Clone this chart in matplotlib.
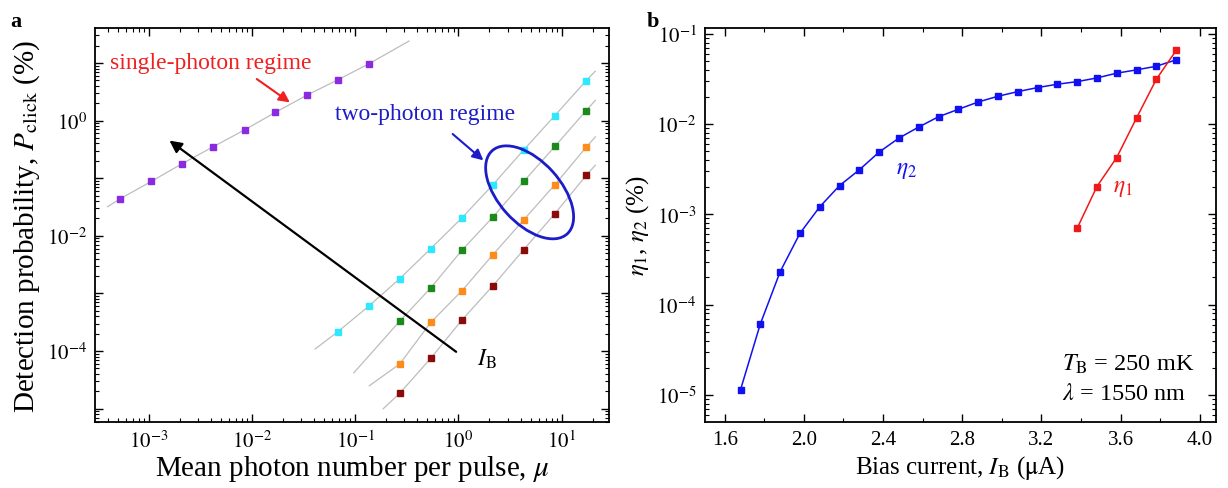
import numpy as np
import matplotlib
matplotlib.use('Agg')
import matplotlib.pyplot as plt
from matplotlib.patches import Ellipse
from matplotlib.transforms import ScaledTranslation
from matplotlib.ticker import FixedLocator, LogLocator, NullFormatter, FuncFormatter, MultipleLocator

plt.rcParams['font.family'] = ['Liberation Serif', 'DejaVu Serif']
plt.rcParams['mathtext.fontset'] = 'stix'

# ---- panel a data: mean photon number vs click probability (%)
mu = [0.00053, 0.00106, 0.0021, 0.0042, 0.0085, 0.0169, 0.034, 0.068, 0.135,
      0.27, 0.54, 1.08, 2.16, 4.3, 8.6, 17.3]
p_purple = [0.044, 0.088, 0.178, 0.35, 0.69, 1.39, 2.75, 5.1, 9.6]
p_cyan = [2.17e-4, 6.0e-4, 1.8e-3, 6.0e-3, 0.0204, 0.077, 0.31, 1.22, 4.92]
p_green = [3.3e-4, 1.25e-3, 5.6e-3, 0.0212, 0.088, 0.355, 1.49]
p_orange = [5.97e-5, 3.14e-4, 1.11e-3, 4.7e-3, 0.019, 0.077, 0.345]
p_darkred = [1.85e-5, 7.5e-5, 3.45e-4, 1.36e-3, 5.77e-3, 0.0242, 0.112]

# ends of the grey fit lines (start, end)
fit_purple = ([4.0e-4, 0.333], [0.032, 24.0])
fit_cyan = ([0.041, 21.2], [1.09e-4, 7.2])
fit_green = ([0.097, 21.2], [4.2e-5, 2.24])
fit_orange = ([0.137, 21.2], [2.5e-5, 0.52])
fit_darkred = ([0.187, 21.2], [1.0e-5, 0.168])

# ---- panel b data: efficiencies vs bias current
ib2 = [1.68, 1.78, 1.88, 1.98, 2.08, 2.18, 2.28, 2.38, 2.48, 2.58, 2.68, 2.78,
       2.88, 2.98, 3.08, 3.18, 3.28, 3.38, 3.48, 3.58, 3.68, 3.78, 3.88]
eta2 = [1.14e-5, 6.1e-5, 2.31e-4, 6.15e-4, 1.21e-3, 2.08e-3, 3.11e-3, 4.89e-3,
        6.99e-3, 9.26e-3, 0.01205, 0.01455, 0.01754, 0.0203, 0.02285, 0.02535,
        0.0276, 0.0295, 0.0324, 0.0366, 0.0398, 0.0437, 0.0514]
ib1 = [3.38, 3.48, 3.58, 3.68, 3.78, 3.88]
eta1 = [6.99e-4, 2.03e-3, 4.26e-3, 0.01166, 0.0313, 0.0653]

fig = plt.figure(figsize=(12.28, 4.89), dpi=100)
ax1 = fig.add_axes([0.0774, 0.135, 0.4186, 0.805])
ax2 = fig.add_axes([0.574, 0.135, 0.416, 0.805])


def fit_line(ax, fit, pts_x, pts_y):
    xs = [fit[0][0]] + list(pts_x) + [fit[0][1]]
    ys = [fit[1][0]] + list(pts_y) + [fit[1][1]]
    ax.plot(xs, ys, color='#bdbdbd', lw=0.9, zorder=1)


series = [
    (mu[0:9], p_purple, fit_purple, '#8a2be2'),
    (mu[7:16], p_cyan, fit_cyan, '#2ee8ff'),
    (mu[9:16], p_green, fit_green, '#1a8a1a'),
    (mu[9:16], p_orange, fit_orange, '#ff8c1a'),
    (mu[9:16], p_darkred, fit_darkred, '#8b0a0a'),
]
for xs, ys, fit, c in series:
    fit_line(ax1, fit, xs, ys)
    ax1.plot(xs, ys, 's', color=c, ms=4.5, mec=c, zorder=3)

ax1.set_xscale('log')
ax1.set_yscale('log')
ax1.set_xlim(10 ** -3.52, 10 ** 1.46)
ax1.set_ylim(10 ** -5.23, 10 ** 1.6)

ax1.xaxis.set_major_locator(FixedLocator([1e-3, 1e-2, 1e-1, 1e0, 1e1]))
ax1.xaxis.set_major_formatter(FuncFormatter(lambda v, p: r'$10^{%d}$' % round(np.log10(v))))
ax1.xaxis.set_minor_locator(LogLocator(base=10, subs=np.arange(2, 10), numticks=20))
ax1.xaxis.set_minor_formatter(NullFormatter())
ax1.yaxis.set_major_locator(FixedLocator([10.0 ** k for k in range(-5, 2)]))
ax1.yaxis.set_major_formatter(FuncFormatter(
    lambda v, p: r'$10^{%d}$' % round(np.log10(v)) if round(np.log10(v)) % 2 == 0 else ''))
ax1.yaxis.set_minor_locator(LogLocator(base=10, subs=np.arange(2, 10), numticks=20))
ax1.yaxis.set_minor_formatter(NullFormatter())

ax1.set_xlabel(r'Mean photon number per pulse, $\mu$', fontsize=21, labelpad=1)
ax1.set_ylabel(r'Detection probability, $P_{\mathrm{click}}$ (%)', fontsize=21, labelpad=3)

# annotations panel a
ax1.text(4.2e-4, 10.2, 'single-photon regime', color='#f02020', fontsize=17, va='center')
ax1.annotate('', xy=(0.0245, 1.94), xytext=(0.0106, 5.6),
             arrowprops=dict(arrowstyle='-|>', color='#f02020', lw=1.5, mutation_scale=16))
ax1.text(0.0637, 1.30, 'two-photon regime', color='#1c1cc8', fontsize=17, va='center')
ax1.annotate('', xy=(1.83, 0.19), xytext=(0.84, 0.628),
             arrowprops=dict(arrowstyle='-|>', color='#1c1cc8', lw=1.5, mutation_scale=16))
ell_tr = fig.dpi_scale_trans + ScaledTranslation(4.9, 0.0568, ax1.transData)
ax1.add_patch(Ellipse((0, 0), width=1.12, height=0.62, angle=-48, fill=False,
                      ec='#1c1cc8', lw=2.0, transform=ell_tr, zorder=4))
ax1.annotate('', xy=(1.51e-3, 0.48), xytext=(1.0, 9.1e-5),
             arrowprops=dict(arrowstyle='-|>', color='black', lw=1.6, mutation_scale=18))
ax1.text(1.5, 7.5e-5, r'$I_{\mathrm{B}}$', fontsize=17, va='center')

# ---- panel b
ax2.plot(ib2, eta2, 's-', color='#1010f0', ms=5, lw=1.1)
ax2.plot(ib1, eta1, 's-', color='#f01818', ms=5, lw=1.1)
ax2.set_yscale('log')
ax2.set_xlim(1.5, 4.08)
ax2.set_ylim(10 ** -5.3, 10 ** -0.94)
ax2.xaxis.set_major_locator(MultipleLocator(0.4))
ax2.xaxis.set_minor_locator(MultipleLocator(0.2))
ax2.xaxis.set_major_formatter(FuncFormatter(lambda v, p: '%.1f' % v))
ax2.yaxis.set_major_locator(FixedLocator([10.0 ** k for k in range(-5, 0)]))
ax2.yaxis.set_major_formatter(FuncFormatter(lambda v, p: r'$10^{%d}$' % round(np.log10(v))))
ax2.yaxis.set_minor_locator(LogLocator(base=10, subs=np.arange(2, 10), numticks=20))
ax2.yaxis.set_minor_formatter(NullFormatter())
ax2.set_xlabel(r'Bias current, $I_{\mathrm{B}}$ ($\mathrm{\mu}$A)', fontsize=18, labelpad=3)
ax2.set_ylabel(r'$\eta_1$, $\eta_2$ (%)', fontsize=18, labelpad=4)

ax2.text(2.463, 3.16e-3, r'$\eta_2$', color='#1010f0', fontsize=17, va='center')
ax2.text(3.562, 1.98e-3, r'$\eta_1$', color='#f01818', fontsize=17, va='center')
ax2.text(0.70, 0.148, r'$T_{\mathrm{B}}$ = 250 mK', transform=ax2.transAxes, fontsize=17.5, va='center')
ax2.text(0.70, 0.072, r'$\lambda$ = 1550 nm', transform=ax2.transAxes, fontsize=17.5, va='center')

for ax in (ax1, ax2):
    ax.tick_params(which='both', direction='in', top=True, right=True, labelsize=15)
    ax.tick_params(which='major', length=6, width=1, pad=6)
    ax.tick_params(which='minor', length=3, width=0.8)
    for s in ax.spines.values():
        s.set_linewidth(1.3)

fig.text(0.008, 0.975, 'a', fontsize=16, fontweight='bold', va='top')
fig.text(0.527, 0.975, 'b', fontsize=16, fontweight='bold', va='top')

fig.savefig('out.png', dpi=100)
